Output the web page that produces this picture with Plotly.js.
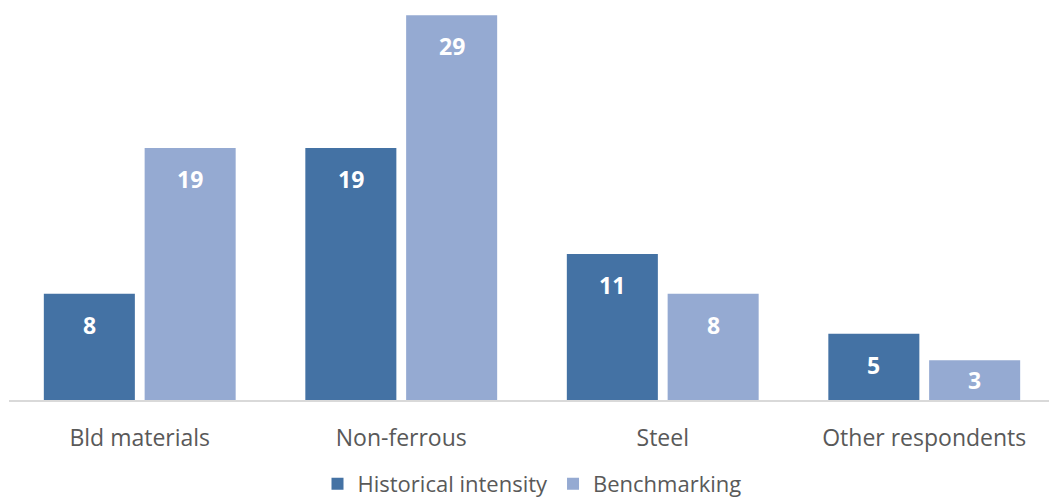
<!DOCTYPE html>
<html><head><meta charset="utf-8">
<script src="https://cdn.plot.ly/plotly-3.0.1.min.js"></script>
<style>html,body{margin:0;padding:0;overflow:hidden;background:#fff}#chart{width:1056px;height:501px}</style>
</head><body><div id="chart"></div>
<script>
const categories = ['Bld materials', 'Non-ferrous', 'Steel', 'Other respondents'];
const historical = [8, 19, 11, 5];
const benchmarking = [19, 29, 8, 3];
const seriesNames = ['Historical intensity', 'Benchmarking'];
const colors = ['#4472a4', '#95aad2'];

const font = '"Open Sans", sans-serif';
const pxPerUnit = 398 / 30;
const groupShift = 50.4;

const traces = [historical, benchmarking].map((vals, i) => ({
  type: 'bar', x: categories, y: vals, name: seriesNames[i],
  marker: {color: colors[i]}, hoverinfo: 'skip'
}));

const annotations = [];
[historical, benchmarking].forEach((vals, i) => {
  vals.forEach((v, j) => {
    annotations.push({
      x: categories[j], y: v, xref: 'x', yref: 'y', text: '<b>' + v + '</b>',
      showarrow: false, xshift: (i === 0 ? -groupShift : groupShift),
      yshift: -Math.min(31, v * pxPerUnit / 2), yanchor: 'middle',
      font: {family: font, size: 23, color: '#ffffff'}
    });
  });
});

Plotly.newPlot('chart', traces, {
  width: 1056, height: 501,
  margin: {l: 9, r: 1, t: 2, b: 101, autoexpand: false},
  barmode: 'group', bargap: 0.229, bargroupgap: 0.097,
  plot_bgcolor: '#fff', paper_bgcolor: '#fff',
  xaxis: {showline: true, linecolor: '#d9d9d9', linewidth: 1.5, ticks: '', ticklabelstandoff: 17,
          automargin: false,
          tickfont: {family: font, size: 23, color: '#595959'}, fixedrange: true},
  yaxis: {range: [0, 30], visible: false, showgrid: false, zeroline: false, fixedrange: true},
  showlegend: true,
  legend: {orientation: 'h', x: 0.5, xanchor: 'center', y: -0.158, yanchor: 'top',
           font: {family: font, size: 22, color: '#595959'}, itemwidth: 30, tracegroupgap: 0},
  annotations: annotations
}, {displayModeBar: false, staticPlot: true});
</script></body></html>
